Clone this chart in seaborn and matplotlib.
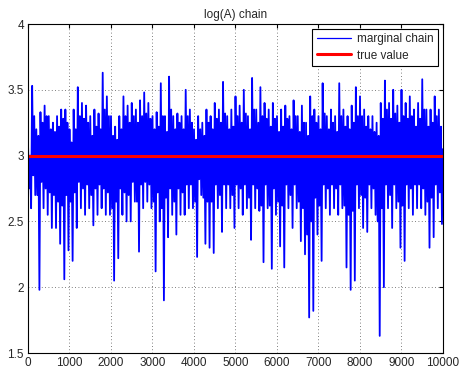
import numpy as np
import pandas as pd
import matplotlib
matplotlib.use("Agg")
import matplotlib.pyplot as plt
import seaborn as sns

# Chain readings every 100 iterations (0..10000): outer envelope and dense core
iters = list(range(0, 10001, 100))
chain_high = [3.10, 3.53, 3.20, 3.33, 3.38, 3.30, 3.25, 3.30, 3.35, 3.35,
              3.20, 3.35, 3.52, 3.40, 3.38, 3.30, 3.35, 3.32, 3.63, 3.45,
              3.30, 3.22, 3.30, 3.45, 3.38, 3.40, 3.35, 3.42, 3.48, 3.40,
              3.30, 3.33, 3.55, 3.30, 3.60, 3.30, 3.32, 3.30, 3.50, 3.35,
              3.20, 3.30, 3.25, 3.35, 3.30, 3.40, 3.35, 3.56, 3.30, 3.35,
              3.45, 3.38, 3.50, 3.30, 3.59, 3.35, 3.52, 3.40, 3.35, 3.40,
              3.30, 3.35, 3.38, 3.30, 3.42, 3.30, 3.38, 3.25, 3.45, 3.35,
              3.30, 3.55, 3.30, 3.35, 3.30, 3.55, 3.35, 3.30, 3.38, 3.52,
              3.45, 3.35, 3.30, 3.30, 3.25, 3.40, 3.57, 3.40, 3.50, 3.38,
              3.50, 3.40, 3.45, 3.35, 3.40, 3.58, 3.35, 3.35, 3.45, 3.35,
              3.05]
chain_low = [2.60, 2.70, 1.98, 2.60, 2.55, 2.45, 2.45, 2.33, 2.06, 2.28,
             2.20, 2.45, 2.60, 2.55, 2.60, 2.47, 2.55, 2.60, 2.55, 2.55,
             2.05, 2.22, 2.55, 2.50, 2.50, 2.65, 2.27, 2.60, 2.65, 2.60,
             2.12, 2.50, 1.90, 2.38, 2.55, 2.40, 2.55, 2.55, 2.60, 2.60,
             2.23, 2.70, 2.33, 2.30, 2.26, 2.60, 2.42, 2.60, 2.60, 2.45,
             2.60, 2.55, 2.60, 2.36, 2.60, 2.58, 2.19, 2.60, 2.14, 2.55,
             2.31, 2.15, 2.60, 2.45, 2.60, 2.35, 2.25, 1.77, 1.82, 2.40,
             2.20, 2.60, 2.55, 2.60, 2.55, 2.60, 2.15, 1.98, 2.05, 2.60,
             2.45, 2.42, 2.60, 2.55, 1.63, 2.00, 2.60, 2.45, 2.60, 2.30,
             2.20, 2.60, 2.55, 2.60, 2.60, 2.55, 2.30, 2.38, 2.60, 2.48,
             2.40]
core_high = [3.00, 3.30, 3.15, 3.25, 3.30, 3.20, 3.18, 3.22, 3.28, 3.25,
             3.10, 3.20, 3.30, 3.28, 3.25, 3.15, 3.22, 3.20, 3.35, 3.30,
             3.15, 3.12, 3.20, 3.30, 3.25, 3.30, 3.25, 3.30, 3.32, 3.28,
             3.20, 3.22, 3.30, 3.18, 3.35, 3.20, 3.25, 3.20, 3.30, 3.25,
             3.12, 3.20, 3.15, 3.25, 3.20, 3.28, 3.25, 3.32, 3.20, 3.22,
             3.30, 3.25, 3.32, 3.20, 3.35, 3.25, 3.30, 3.28, 3.22, 3.28,
             3.18, 3.22, 3.28, 3.20, 3.30, 3.18, 3.25, 3.15, 3.30, 3.25,
             3.20, 3.32, 3.20, 3.25, 3.18, 3.30, 3.22, 3.20, 3.25, 3.30,
             3.30, 3.22, 3.20, 3.18, 3.15, 3.28, 3.35, 3.28, 3.32, 3.25,
             3.30, 3.28, 3.30, 3.22, 3.28, 3.35, 3.22, 3.25, 3.30, 3.22,
             3.00]
core_low = [2.75, 2.85, 2.70, 2.80, 2.75, 2.72, 2.70, 2.65, 2.62, 2.70,
            2.65, 2.72, 2.80, 2.75, 2.78, 2.70, 2.75, 2.78, 2.75, 2.72,
            2.60, 2.65, 2.75, 2.72, 2.70, 2.80, 2.65, 2.78, 2.80, 2.78,
            2.65, 2.72, 2.60, 2.68, 2.75, 2.65, 2.75, 2.72, 2.78, 2.78,
            2.65, 2.82, 2.68, 2.65, 2.65, 2.78, 2.70, 2.78, 2.78, 2.70,
            2.78, 2.75, 2.78, 2.68, 2.78, 2.75, 2.62, 2.78, 2.62, 2.75,
            2.65, 2.62, 2.78, 2.70, 2.78, 2.65, 2.60, 2.40, 2.50, 2.68,
            2.62, 2.78, 2.75, 2.78, 2.75, 2.78, 2.62, 2.55, 2.58, 2.78,
            2.70, 2.68, 2.78, 2.75, 2.50, 2.60, 2.78, 2.70, 2.78, 2.65,
            2.62, 2.78, 2.75, 2.78, 2.78, 2.75, 2.65, 2.68, 2.78, 2.72,
            2.60]
true_value = 3.0
x_range = [0, 10000]
title = "log(A) chain"
legend_labels = ["marginal chain", "true value"]

# interleave the readings of each 100-iteration block into one chain trace
xs, ys = [], []
for it, hi, cl, ch, lo in zip(iters, chain_high, core_low, core_high, chain_low):
    for off, v in ((0, hi), (25, cl), (50, ch), (75, lo)):
        if it + off <= 10000:
            xs.append(it + off)
            ys.append(v)
chain = pd.DataFrame({"iteration": xs, "value": ys})
truth = pd.DataFrame({"iteration": x_range, "value": [true_value] * 2})

sns.set_style("white")
plt.rcParams["font.family"] = ["Liberation Sans", "DejaVu Sans"]

fig = plt.figure(figsize=(4.64, 3.68), dpi=100)
ax = fig.add_axes([28 / 464, 1 - 353 / 368, 415 / 464, 329 / 368])

sns.lineplot(data=chain, x="iteration", y="value", ax=ax, color=(0, 0, 1),
             linewidth=1.3, label=legend_labels[0], sort=False, estimator=None)
sns.lineplot(data=truth, x="iteration", y="value", ax=ax, color=(1, 0, 0),
             linewidth=2.2, label=legend_labels[1], estimator=None)

ax.set_xlim(0, 10000)
ax.set_ylim(1.5, 4)
ax.set_xticks(range(0, 10001, 1000))
ax.set_yticks([1.5, 2, 2.5, 3, 3.5, 4])
ax.set_yticklabels(["1.5", "2", "2.5", "3", "3.5", "4"])
ax.set_xlabel("")
ax.set_ylabel("")
ax.set_title(title, fontsize=8.5, pad=4)
ax.tick_params(direction="in", length=3, labelsize=8.5, top=True, right=True,
               color="black", pad=3)
ax.grid(True, linestyle=(0, (1, 3)), color="#555555", linewidth=0.6)
for s in ax.spines.values():
    s.set_color("black")
    s.set_linewidth(0.8)

leg = ax.legend(loc="upper right", fontsize=8.5, frameon=True, fancybox=False,
                borderaxespad=0.4, handlelength=2.9, borderpad=0.4,
                labelspacing=0.35, handletextpad=0.5)
leg.get_frame().set_edgecolor("black")
leg.get_frame().set_linewidth(0.8)
leg.get_frame().set_alpha(1)
leg.get_lines()[0].set_linewidth(0.9)

fig.savefig("out.png", dpi=100)
